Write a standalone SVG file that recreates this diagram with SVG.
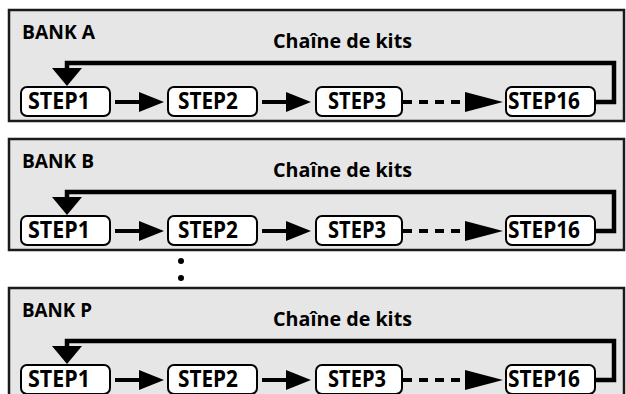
<svg xmlns="http://www.w3.org/2000/svg" width="626" height="394" viewBox="0 0 626 394">
<style>
.panel{fill:#e6e6e6;stroke:#1a1a1a;stroke-width:2.5}
.box{fill:#fff;stroke:#000;stroke-width:2}
.t{font-family:"Open Sans","Liberation Sans",sans-serif;font-weight:700;fill:#000}
.bank{font-size:20px}
.chain{font-size:20px}
.step{font-size:22.5px}
.ln{fill:none;stroke:#000;stroke-width:4}
.dash{stroke-dasharray:9 7}
.fb{fill:none;stroke:#000;stroke-width:4.5;stroke-linejoin:miter}
.dot{fill:#000}
</style>
<defs>
<marker id="ah" markerUnits="userSpaceOnUse" markerWidth="25" markerHeight="20" refX="0" refY="10" orient="auto" overflow="visible"><path d="M0,0 L25,10 L0,20 Z" fill="#000"/></marker>
<marker id="ahL" markerUnits="userSpaceOnUse" markerWidth="38" markerHeight="20" refX="0" refY="10" orient="auto" overflow="visible"><path d="M0,0 L38,10 L0,20 Z" fill="#000"/></marker>
<marker id="ahD" markerUnits="userSpaceOnUse" markerWidth="18" markerHeight="30" refX="0" refY="15" orient="auto" overflow="visible"><path d="M0,0 L18,15 L0,30 Z" fill="#000"/></marker>
</defs>

<g id="bankA">
<rect class="panel" x="9" y="10" width="615" height="111"/>
<text class="t bank" x="22" y="39" textLength="73" lengthAdjust="spacingAndGlyphs">BANK A</text>
<text class="t chain" x="273" y="48" textLength="139" lengthAdjust="spacingAndGlyphs">Chaîne de kits</text>
<g id="a-step1"><rect class="box" x="21" y="87" width="89" height="29" rx="6"/><text class="t step" x="28" y="109" textLength="62" lengthAdjust="spacingAndGlyphs">STEP1</text></g>
<g id="a-step2"><rect class="box" x="168" y="87" width="89" height="29" rx="6"/><text class="t step" x="178" y="109" textLength="60" lengthAdjust="spacingAndGlyphs">STEP2</text></g>
<g id="a-step3"><rect class="box" x="316" y="87" width="86" height="29" rx="6"/><text class="t step" x="328" y="109" textLength="58" lengthAdjust="spacingAndGlyphs">STEP3</text></g>
<g id="a-step16"><rect class="box" x="506" y="87" width="89" height="29" rx="6"/><text class="t step" x="508" y="109" textLength="72" lengthAdjust="spacingAndGlyphs">STEP16</text></g>
<g id="a-connectors">
<path class="ln" d="M115,102 H139" marker-end="url(#ah)"/>
<path class="ln" d="M262,102 H286" marker-end="url(#ah)"/>
<path class="ln dash" d="M403,102 H465" marker-end="url(#ahL)"/>
<path class="fb" d="M595,102 H614 V63 H67 V68" marker-end="url(#ahD)"/>
</g>
</g>

<g id="bankB" transform="translate(0,129)">
<rect class="panel" x="9" y="10" width="615" height="111"/>
<text class="t bank" x="22" y="39" textLength="72" lengthAdjust="spacingAndGlyphs">BANK B</text>
<text class="t chain" x="273" y="48" textLength="139" lengthAdjust="spacingAndGlyphs">Chaîne de kits</text>
<g id="b-step1"><rect class="box" x="21" y="87" width="89" height="29" rx="6"/><text class="t step" x="28" y="109" textLength="62" lengthAdjust="spacingAndGlyphs">STEP1</text></g>
<g id="b-step2"><rect class="box" x="168" y="87" width="89" height="29" rx="6"/><text class="t step" x="178" y="109" textLength="60" lengthAdjust="spacingAndGlyphs">STEP2</text></g>
<g id="b-step3"><rect class="box" x="316" y="87" width="86" height="29" rx="6"/><text class="t step" x="328" y="109" textLength="58" lengthAdjust="spacingAndGlyphs">STEP3</text></g>
<g id="b-step16"><rect class="box" x="506" y="87" width="89" height="29" rx="6"/><text class="t step" x="508" y="109" textLength="72" lengthAdjust="spacingAndGlyphs">STEP16</text></g>
<g id="b-connectors">
<path class="ln" d="M115,102 H139" marker-end="url(#ah)"/>
<path class="ln" d="M262,102 H286" marker-end="url(#ah)"/>
<path class="ln dash" d="M403,102 H465" marker-end="url(#ahL)"/>
<path class="fb" d="M595,102 H614 V63 H67 V68" marker-end="url(#ahD)"/>
</g>
</g>

<g id="ellipsis">
<circle class="dot" cx="181" cy="261" r="3"/>
<circle class="dot" cx="181" cy="278" r="3"/>
</g>

<g id="bankP" transform="translate(0,278)">
<rect class="panel" x="9" y="10" width="615" height="111"/>
<text class="t bank" x="22" y="39" textLength="70" lengthAdjust="spacingAndGlyphs">BANK P</text>
<text class="t chain" x="273" y="48" textLength="139" lengthAdjust="spacingAndGlyphs">Chaîne de kits</text>
<g id="p-step1"><rect class="box" x="21" y="87" width="89" height="29" rx="6"/><text class="t step" x="28" y="109" textLength="62" lengthAdjust="spacingAndGlyphs">STEP1</text></g>
<g id="p-step2"><rect class="box" x="168" y="87" width="89" height="29" rx="6"/><text class="t step" x="178" y="109" textLength="60" lengthAdjust="spacingAndGlyphs">STEP2</text></g>
<g id="p-step3"><rect class="box" x="316" y="87" width="86" height="29" rx="6"/><text class="t step" x="328" y="109" textLength="58" lengthAdjust="spacingAndGlyphs">STEP3</text></g>
<g id="p-step16"><rect class="box" x="506" y="87" width="89" height="29" rx="6"/><text class="t step" x="508" y="109" textLength="72" lengthAdjust="spacingAndGlyphs">STEP16</text></g>
<g id="p-connectors">
<path class="ln" d="M115,102 H139" marker-end="url(#ah)"/>
<path class="ln" d="M262,102 H286" marker-end="url(#ah)"/>
<path class="ln dash" d="M403,102 H465" marker-end="url(#ahL)"/>
<path class="fb" d="M595,102 H614 V63 H67 V68" marker-end="url(#ahD)"/>
</g>
</g>
</svg>
